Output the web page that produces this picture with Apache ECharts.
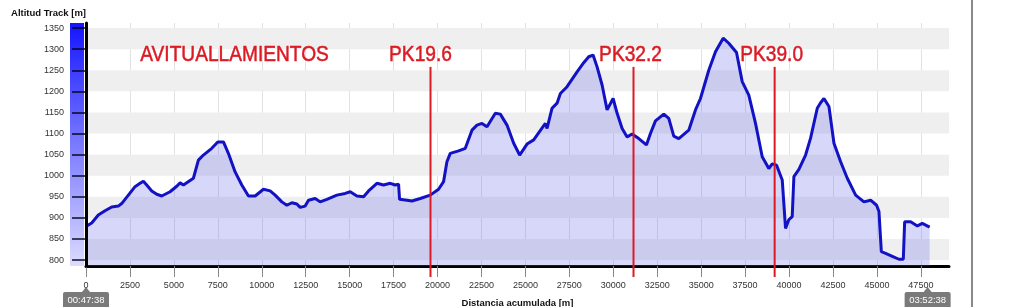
<!DOCTYPE html>
<html>
<head>
<meta charset="utf-8">
<script src="https://cdn.jsdelivr.net/npm/echarts@6/dist/echarts.min.js"></script>
<style>
html,body{margin:0;padding:0;background:#fff;}
#c{width:1024px;height:307px;}
</style>
</head>
<body>
<div id="c"></div>
<script>
// ---- data ----
const dist = [0,324,700,1082,1463,1840,2030,2410,2790,3075,3265,3455,3740,4025,4310,4783,5163,5353,5543,6110,6395,6680,7155,7497,7820,8100,8484,8864,9243,9623,10097,10477,10762,11142,11427,11712,11997,12185,12470,12660,13040,13324,13705,14275,14748,15032,15413,15792,16077,16552,16930,17310,17594,17783,17840,18260,18545,19018,19587,20060,20344,20535,20725,21200,21580,21960,22245,22530,22815,23288,23572,23953,24332,24673,25092,25470,26135,26232,26516,26801,26990,27370,27940,28317,28602,28850,29078,29363,29648,29990,30218,30503,30787,31072,31450,31886,32114,32399,32872,33157,33441,33726,34295,34676,34960,35433,35814,36251,36572,37011,37335,37710,38092,38473,38849,39040,39290,39612,39800,39990,40180,40275,40560,40940,41225,41605,41795,41985,42270,42555,42934,43314,43788,44260,44640,44980,45115,45250,45495,45875,46254,46500,46577,46918,47300,47580,47998];
const elev = [880,888,907,917,926,928,934,954,974,982,987,978,964,956,952,962,975,983,978,994,1037,1049,1065,1080,1080,1053,1009,978,952,952,968,964,954,938,930,936,933,925,928,942,946,938,944,954,958,962,952,950,964,982,978,982,978,980,944,942,940,946,954,968,986,1033,1053,1059,1065,1108,1120,1124,1116,1148,1146,1120,1077,1049,1075,1085,1124,1112,1160,1172,1195,1211,1246,1268,1282,1286,1258,1215,1156,1183,1148,1112,1092,1099,1088,1073,1100,1130,1146,1136,1094,1088,1108,1156,1183,1250,1294,1326,1314,1292,1223,1191,1124,1045,1017,1028,1025,990,875,896,903,998,1015,1049,1089,1160,1173,1183,1164,1077,1033,994,954,938,942,930,915,820,816,809,802,802,891,891,881,887,878];
const xTicks = [0,2500,5000,7500,10000,12500,15000,17500,20000,22500,25000,27500,30000,32500,35000,37500,40000,42500,45000,47500];
const yTicks = [800,850,900,950,1000,1050,1100,1150,1200,1250,1300,1350];
const bandRanges = [[800,850],[900,950],[1000,1050],[1100,1150],[1200,1250],[1300,1350]];
const pkDist = [19600, 31150, 39180];
const pkLabels = ['PK19.6','PK32.2','PK39.0'];
const pkTop = 1258;
const titleText = 'AVITUALLAMIENTOS';
const startTime = '00:47:38';
const endTime = '03:52:38';
const yMin = 786, yMax = 1362, xMin = 0, xMax = 49100;

const chart = echarts.init(document.getElementById('c'));
const redFont = "'Liberation Sans',Arial,sans-serif";
const lblFont = "'Liberation Sans','DejaVu Sans',sans-serif";
const RED = '#dc1a24';
const plain = v => String(v);

function redText(x, y, txt) {
  return {
    type: 'text', x: x, y: y, scaleX: 0.87, z: 20,
    style: { text: txt, fontFamily: redFont, fontSize: 22, fill: RED, stroke: RED, lineWidth: 0.5,
             align: 'center', verticalAlign: 'middle' }
  };
}

const option = {
  animation: false,
  backgroundColor: '#fff',
  grid: { left: 86, right: 75, top: 23, bottom: 41, containLabel: false, outerBoundsMode: 'none' },
  xAxis: {
    type: 'value', min: xMin, max: xMax,
    name: 'Distancia acumulada [m]', nameLocation: 'middle', nameGap: 32,
    nameTextStyle: { fontFamily: lblFont, fontWeight: 'bold', fontSize: 9.5, color: '#111' },
    axisLine: { show: true, onZero: false, lineStyle: { color: '#000', width: 3 } },
    axisTick: { show: true, length: 11, customValues: xTicks, lineStyle: { color: '#888', width: 1 } },
    axisLabel: { customValues: xTicks, formatter: plain, margin: 15, fontFamily: lblFont, fontSize: 9, color: '#333' },
    splitLine: { show: true, lineStyle: { color: '#e2e2e2', width: 1 } }
  },
  yAxis: {
    type: 'value', min: yMin, max: yMax, offset: 2, z: 10,
    name: 'Altitud Track [m]', nameLocation: 'end', nameGap: 5,
    nameTextStyle: { fontFamily: lblFont, fontWeight: 'bold', fontSize: 9.5, color: '#111', align: 'right' },
    axisLine: { show: true, lineStyle: { color: '#000', width: 3 } },
    axisTick: { show: true, length: 14, customValues: yTicks, lineStyle: { color: 'rgba(0,0,20,0.7)', width: 2 } },
    axisLabel: { customValues: yTicks, formatter: plain, margin: 20, fontFamily: lblFont, fontSize: 9, color: '#333' },
    splitLine: { show: false }
  },
  series: [
    {
      type: 'line', z: 1, silent: true,
      data: [[xMin, yMin],[xMax, yMin]],
      lineStyle: { opacity: 0 }, showSymbol: false, symbol: 'none',
      markArea: {
        silent: true,
        itemStyle: { color: '#efefef' },
        data: bandRanges.map(r => [{ yAxis: r[0] }, { yAxis: r[1] }])
      }
    },
    {
      type: 'line', z: 3, silent: true,
      data: dist.map((d, i) => [d, elev[i]]),
      symbol: 'none', smooth: false,
      lineStyle: { color: '#1212c4', width: 3 },
      areaStyle: { color: 'rgba(95,95,235,0.36)', origin: 'start' }
    },
    {
      type: 'custom', z: 10, clip: false, silent: true,
      data: pkDist.map(d => [d, pkTop]),
      encode: { x: 0, y: 1 },
      renderItem: function (params, api) {
        const x = api.value(0);
        const top = api.coord([x, api.value(1)]);
        const bot = api.coord([x, yMin]);
        return {
          type: 'group',
          children: [
            { type: 'line', shape: { x1: top[0], y1: top[1], x2: bot[0], y2: bot[1] + 11 },
              style: { stroke: RED, lineWidth: 2 } },
            redText(top[0] - (params.dataIndex === 0 ? 10 : 3), top[1] - 11.5, pkLabels[params.dataIndex])
          ]
        };
      }
    }
  ]
};
chart.setOption(option);

const p0 = chart.convertToPixel({ gridIndex: 0 }, [xMin, yMin]);
const p1 = chart.convertToPixel({ gridIndex: 0 }, [dist[dist.length - 1], yMax]);
const pTitle = chart.convertToPixel({ gridIndex: 0 }, [8450, pkTop]);
function timeBox(cx, txt) {
  return {
    type: 'group', x: cx, y: p0[1] + 26, z: 20,
    children: [
      { type: 'polygon', shape: { points: [[0, -5], [-4, 0], [4, 0]] }, style: { fill: '#7a7a7a' } },
      { type: 'rect', shape: { x: -23, y: 0, width: 46, height: 17, r: 2 }, style: { fill: '#7a7a7a' } },
      { type: 'text', x: 0, y: 8, style: { text: txt, fontFamily: lblFont, fontSize: 9.5, fill: '#fff', align: 'center', verticalAlign: 'middle' } }
    ]
  };
}
chart.setOption({
  graphic: [
    { type: 'rect', z: -1, shape: { x: p0[0] - 16, y: 23, width: 14, height: p0[1] - 23 },
      style: { fill: new echarts.graphic.LinearGradient(0, 0, 0, 1, [
        { offset: 0, color: '#1414ff' }, { offset: 0.5, color: '#7a7aff' }, { offset: 1, color: '#dcdcff' }]) } },
    redText(pTitle[0], pTitle[1] - 11.5, titleText),
    timeBox(p0[0], startTime),
    timeBox(p1[0] - 2, endTime),
    { type: 'line', z: 20, shape: { x1: 972, y1: 0, x2: 972, y2: 307 }, style: { stroke: '#8a8a8a', lineWidth: 2 } }
  ]
});
</script>
</body>
</html>
